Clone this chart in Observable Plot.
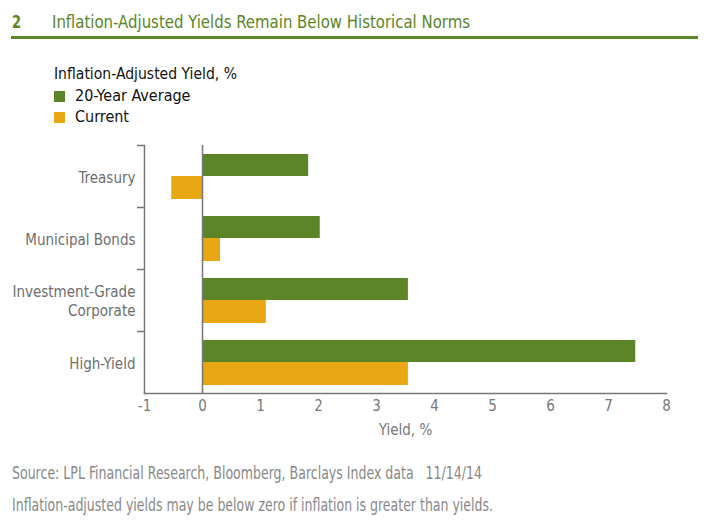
<!DOCTYPE html>
<html><head><meta charset="utf-8">
<script src="https://cdn.jsdelivr.net/npm/d3@7"></script>
<script src="https://cdn.jsdelivr.net/npm/@observablehq/plot@0.6"></script>
<style>
body{margin:0;background:#fff;font-family:"Liberation Sans Narrow","DejaVu Sans Condensed",sans-serif;}
#wrap{position:relative;width:706px;height:529px;overflow:hidden;}
.abs{position:absolute;white-space:nowrap;line-height:1;transform-origin:0 0;}
.sw{position:absolute;width:11px;height:11px;}
</style></head><body><div id="wrap">
<div class="abs" style="left:12px;top:13px;font-size:18px;font-weight:bold;color:#5b8527;" data-w="9">2</div>
<div class="abs" style="left:52px;top:13px;font-size:18px;color:#5b8527;" data-w="418">Inflation-Adjusted Yields Remain Below Historical Norms</div>
<div class="abs" style="left:11px;top:36px;width:687px;height:3px;background:#5b8527;"></div>
<div class="abs" style="left:54px;top:66px;font-size:16px;color:#111;" data-w="183">Inflation-Adjusted Yield, %</div>
<div id="legend"></div>
<div id="chart" style="position:absolute;left:0;top:130px;"></div>
<div class="abs" style="left:12px;top:465px;font-size:17px;color:#888;" data-w="470">Source: LPL Financial Research, Bloomberg, Barclays Index data&nbsp;&nbsp;&nbsp;11/14/14</div>
<div class="abs" style="left:12px;top:497px;font-size:17px;color:#888;" data-w="481">Inflation-adjusted yields may be below zero if inflation is greater than yields.</div>
</div>
<script>
const categories = ["Treasury", "Municipal Bonds", "Investment-Grade\nCorporate", "High-Yield"];
const seriesNames = ["20-Year Average", "Current"];
const seriesColors = ["#5b8527", "#e8a713"];
const avgValues = [1.83, 2.03, 3.55, 7.47];
const currentValues = [-0.53, 0.31, 1.10, 3.55];
const xTicks = [-1, 0, 1, 2, 3, 4, 5, 6, 7, 8];

// legend
const leg = document.getElementById("legend");
seriesNames.forEach((s, i) => {
  const sw = document.createElement("div");
  sw.className = "sw";
  sw.style.left = "54px";
  sw.style.top = (91 + i * 21) + "px";
  sw.style.background = seriesColors[i];
  leg.appendChild(sw);
  const t = document.createElement("div");
  t.className = "abs";
  t.style.left = "75px";
  t.style.top = (88 + i * 21) + "px";
  t.style.fontSize = "16px";
  t.style.color = "#111";
  t.textContent = s;
  leg.appendChild(t);
});

// fit condensed text widths
document.querySelectorAll("[data-w]").forEach(el => {
  const w = el.getBoundingClientRect().width;
  const target = +el.dataset.w;
  if (w > 0) el.style.transform = `scaleX(${target / w})`;
});

const avgData = categories.map((c, i) => ({category: c, value: avgValues[i]}));
const curData = categories.map((c, i) => ({category: c, value: currentValues[i]}));

const height = 320, marginTop = 15, marginBottom = 57;
const bw = (height - marginTop - marginBottom) / categories.length;
const font = '"Liberation Sans Narrow","DejaVu Sans Condensed",sans-serif';

const plot = Plot.plot({
  width: 706,
  height,
  marginLeft: 144,
  marginRight: 40,
  marginTop,
  marginBottom,
  style: {fontFamily: font, fontSize: "15px", color: "#777", background: "transparent"},
  x: {domain: [-1, 8], ticks: xTicks},
  y: {domain: categories, padding: 0, label: null},
  marks: [
    Plot.barX(avgData, {x: "value", y: "category", fill: seriesColors[0], insetTop: 9, insetBottom: bw - 31}),
    Plot.barX(curData, {x: "value", y: "category", fill: seriesColors[1], insetTop: 31, insetBottom: 8}),
    Plot.ruleX([0], {stroke: "#777", strokeWidth: 1.5}),
    Plot.frame({anchor: "left", stroke: "#777", strokeWidth: 1.5}),
    Plot.frame({anchor: "bottom", stroke: "#777", strokeWidth: 1.5}),
    Plot.axisY({tickSize: 7, dy: -bw / 2, text: null, stroke: "#777", strokeWidth: 1.5, label: null}),
    Plot.axisY({tickSize: 0, tickPadding: 9, fill: "#6e6e6e", fontSize: 15, lineHeight: 1.3, label: null}),
    Plot.axisX({ticks: xTicks, tickFormat: d => String(d), tickSize: 0, tickPadding: 7, fill: "#777", fontSize: 15, label: null}),
    Plot.text(["Yield, %"], {frameAnchor: "bottom", dy: 41, fill: "#777", fontSize: 15})
  ]
});
document.getElementById("chart").appendChild(plot);
</script>
</body></html>
